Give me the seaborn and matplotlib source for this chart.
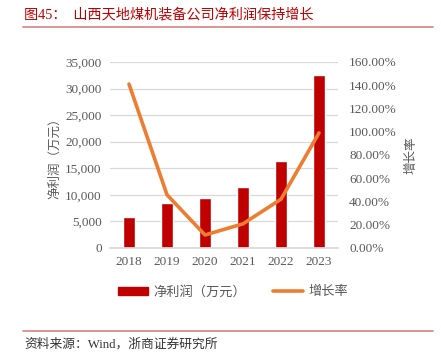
import matplotlib
matplotlib.use("Agg")
import matplotlib.pyplot as plt
import seaborn as sns
import pandas as pd
from matplotlib.ticker import FuncFormatter
from matplotlib.lines import Line2D
from matplotlib.patches import Patch

years = ["2018", "2019", "2020", "2021", "2022", "2023"]
profit = [5800, 8450, 9500, 11400, 16300, 32500]
growth = [141.0, 45.8, 11.2, 20.8, 42.0, 99.0]

title = "图45：  山西天地煤机装备公司净利润保持增长"
source = "资料来源：Wind，浙商证券研究所"
bar_label = "净利润（万元）"
line_label = "增长率"

sns.set_theme(style="white")
FAM = ["Liberation Serif", "Noto Sans CJK SC", "DejaVu Sans"]
plt.rcParams["font.family"] = FAM

RED = "#C00000"
ORANGE = "#ED7D31"
GRAY = "#595959"
GRID = "#D9D9D9"

df = pd.DataFrame({"year": years, "profit": profit, "growth": growth})

fig = plt.figure(figsize=(4.41, 3.55), dpi=100)
ax = fig.add_axes([110 / 441, 1 - 248 / 355, 228 / 441, 186 / 355])

sns.barplot(data=df, x="year", y="profit", color=RED, width=0.32,
            saturation=1, ax=ax)
ax.set_ylim(0, 35000)
ax.set_xlim(-0.5, 5.5)
ax.set_yticks(range(0, 35001, 5000))
ax.yaxis.set_major_formatter(FuncFormatter(lambda v, p: f"{int(v):,}"))
ax.grid(axis="y", color=GRID, linewidth=0.9)
ax.set_axisbelow(True)
for s in ["top", "right", "left"]:
    ax.spines[s].set_visible(False)
ax.spines["bottom"].set_color(GRID)
ax.tick_params(axis="both", length=0, labelsize=9.5, colors=GRAY, pad=6)
ax.set_xlabel("")
ax.set_ylabel(bar_label, color=GRAY, fontsize=9, labelpad=3)

ax2 = ax.twinx()
sns.lineplot(x=list(range(len(years))), y=growth, color=ORANGE, linewidth=2.6,
             ax=ax2)
ax2.set_ylim(0, 160)
ax2.set_yticks(range(0, 161, 20))
ax2.yaxis.set_major_formatter(FuncFormatter(lambda v, p: f"{v:.2f}%"))
for s in ["top", "right", "left", "bottom"]:
    ax2.spines[s].set_visible(False)
ax2.tick_params(axis="y", length=0, labelsize=9.5, colors=GRAY, pad=8)
ax2.set_ylabel(line_label, color=GRAY, fontsize=9, rotation=90, labelpad=6)

handles = [Patch(facecolor=RED, edgecolor=RED),
           Line2D([0], [0], color=ORANGE, linewidth=2.6)]
fig.legend(handles, [bar_label, line_label], loc="center",
           bbox_to_anchor=(233 / 441, 1 - 292 / 355), ncol=2, frameon=False,
           fontsize=9.5, labelcolor=GRAY, handlelength=2.3, handleheight=0.5,
           columnspacing=2.0, handletextpad=0.4)

fig.text(24 / 441, 1 - 15 / 355, title, color=RED, fontsize=10.2,
         va="center", ha="left", family=FAM)
fig.add_artist(Line2D([23 / 441, 433 / 441], [1 - 27 / 355, 1 - 27 / 355],
                      color="#D98080", linewidth=1.2, transform=fig.transFigure))
fig.add_artist(Line2D([23 / 441, 433 / 441], [1 - 331 / 355, 1 - 331 / 355],
                      color="#D98080", linewidth=1.2, transform=fig.transFigure))
fig.text(24 / 441, 1 - 344 / 355, source, color="#333333", fontsize=9.2,
         va="center", ha="left", family=FAM)

fig.savefig("out.png", dpi=100)
